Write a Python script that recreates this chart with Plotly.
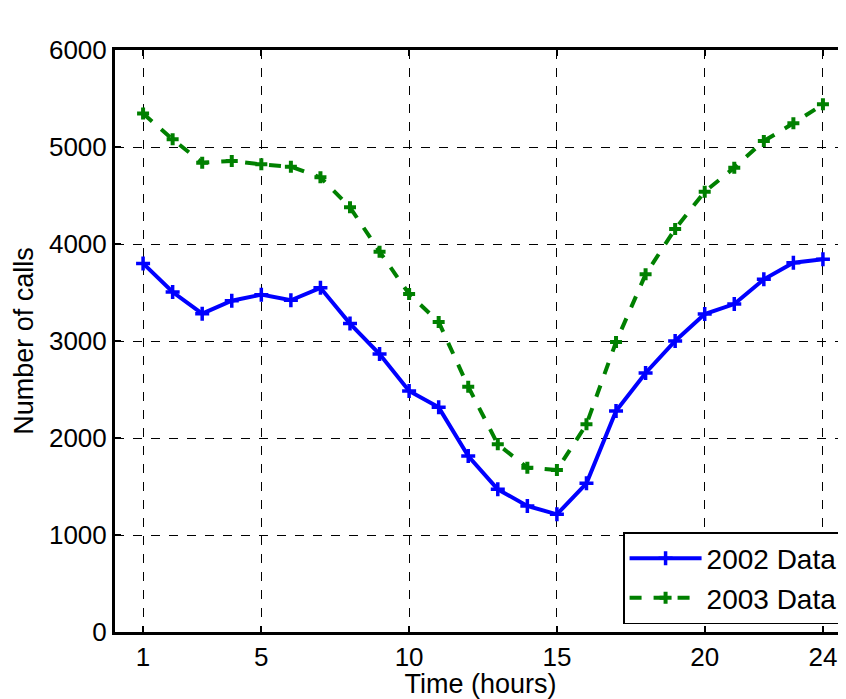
import plotly.graph_objects as go

hours = list(range(1, 25))
calls_2002 = [3800, 3505, 3282, 3415, 3478, 3420, 3548, 3180, 2866, 2485, 2316, 1814,
              1471, 1299, 1213, 1533, 2278, 2670, 3000, 3278, 3381, 3636, 3807, 3842]
calls_2003 = [5345, 5079, 4838, 4856, 4821, 4797, 4687, 4378, 3921, 3485, 3196, 2529,
              1935, 1694, 1670, 2141, 2990, 3687, 4155, 4539, 4787, 5062, 5244, 5440]
x_ticks = [1, 5, 10, 15, 20, 24]
y_ticks = [0, 1000, 2000, 3000, 4000, 5000, 6000]

font = "Liberation Sans, Arial, sans-serif"

fig = go.Figure()
fig.add_trace(go.Scatter(
    x=hours, y=calls_2002, name="2002 Data", mode="lines+markers",
    line=dict(color="#0000ff", width=4),
    marker=dict(symbol="cross-thin", size=10, line=dict(color="#0000ff", width=3.5)),
))
fig.add_trace(go.Scatter(
    x=hours, y=calls_2003, name="2003 Data", mode="lines+markers",
    line=dict(color="#008000", width=4, dash="dash"),
    marker=dict(symbol="cross", size=10, color="#008000"),
))

axis_common = dict(
    showline=True, linecolor="black", linewidth=3,
    ticks="inside", ticklen=6, tickcolor="black", tickwidth=1.5,
    showgrid=True, gridcolor="black", gridwidth=1, griddash="dash",
    zeroline=False, tickfont=dict(family=font, size=26, color="black"),
)

fig.update_layout(
    width=838, height=691,
    margin=dict(l=107, r=0, t=42, b=67),
    plot_bgcolor="white", paper_bgcolor="white",
    font=dict(family=font, color="black"),
    xaxis=dict(range=[0.05, 24.78], tickvals=x_ticks, mirror="ticks",
               title=dict(text="Time (hours)", font=dict(family=font, size=27), standoff=0),
               **axis_common),
    yaxis=dict(range=[0, 6000], tickvals=y_ticks, mirror=False,
               title=dict(text="Number of calls", font=dict(family=font, size=27), standoff=8),
               **axis_common),
    showlegend=True,
    legend=dict(x=0.996, xanchor="right", y=0.0137, yanchor="bottom",
                bordercolor="black", borderwidth=1.5, bgcolor="white",
                font=dict(family=font, size=28), tracegroupgap=0, itemwidth=72),
)

fig.write_html("out.html")
